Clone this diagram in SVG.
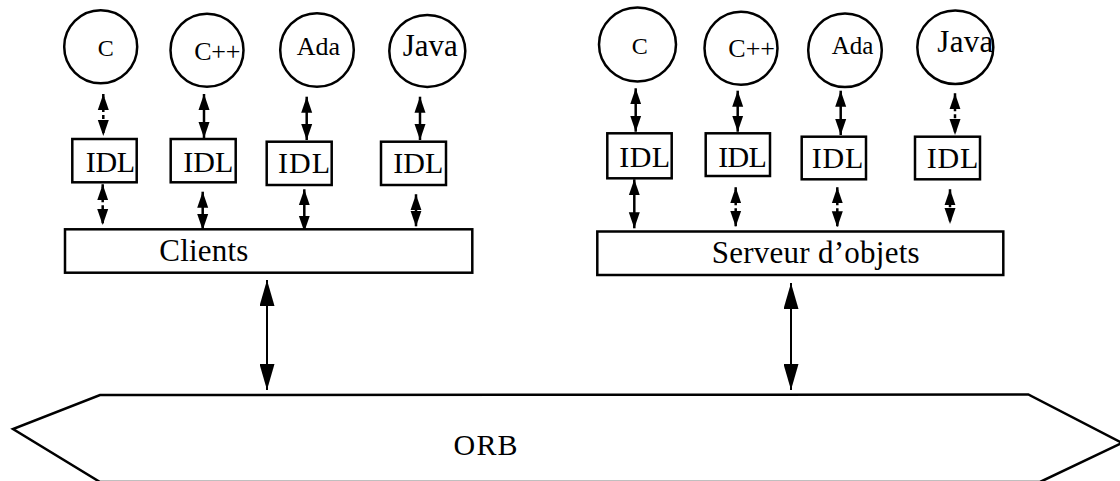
<svg xmlns="http://www.w3.org/2000/svg" width="1120" height="481" viewBox="0 0 1120 481">
<style>
.sh{fill:#fff;stroke:#000;stroke-width:2.5}
.t{font-family:"Liberation Serif","Times New Roman",serif;fill:#000}
.a{stroke:#000;stroke-width:2.5;fill:none;marker-start:url(#hs);marker-end:url(#hs)}
.d{stroke-dasharray:4 3}
.b{stroke:#000;stroke-width:2;fill:none;marker-start:url(#hb);marker-end:url(#hb)}
</style>
<defs>
<marker id="hs" markerUnits="userSpaceOnUse" markerWidth="16" markerHeight="12" refX="16" refY="6" orient="auto-start-reverse"><path d="M0,0.5 L16,6 L0,11.5 z" fill="#000"/></marker>
<marker id="hb" markerUnits="userSpaceOnUse" markerWidth="26" markerHeight="15" refX="26" refY="7.5" orient="auto-start-reverse"><path d="M0,0 L26,7.5 L0,15 z" fill="#000"/></marker>
</defs>
<rect width="1120" height="481" fill="#fff"/>

<g id="connectors">
<line class="a d" x1="103.3" y1="94" x2="103.3" y2="136"/>
<line class="a" x1="204" y1="94" x2="204" y2="138"/>
<line class="a" x1="306.7" y1="96.7" x2="306.7" y2="140"/>
<line class="a" x1="420" y1="96.7" x2="420" y2="140"/>
<line class="a d" x1="102.7" y1="184.3" x2="102.7" y2="225"/>
<line class="a" x1="202.7" y1="191.7" x2="202.7" y2="230"/>
<line class="a" x1="304.3" y1="189.3" x2="304.3" y2="231.7"/>
<line class="a d" x1="416" y1="194.3" x2="416" y2="226.7"/>
<line class="a" x1="635.7" y1="88.3" x2="635.7" y2="131.7"/>
<line class="a" x1="737.7" y1="90.7" x2="737.7" y2="131.7"/>
<line class="a" x1="840.7" y1="90.7" x2="840.7" y2="135"/>
<line class="a d" x1="955" y1="93.3" x2="955" y2="135"/>
<line class="a" x1="634.3" y1="179.3" x2="634.3" y2="228.3"/>
<line class="a d" x1="735.7" y1="187.3" x2="735.7" y2="226.7"/>
<line class="a d" x1="837.3" y1="187.3" x2="837.3" y2="227.3"/>
<line class="a d" x1="950" y1="189.3" x2="950" y2="224"/>
<line class="b" x1="267" y1="280" x2="267" y2="390"/>
<line class="b" x1="791" y1="283" x2="791" y2="390"/>
</g>

<g id="c-client"><circle class="sh" cx="100.7" cy="46.7" r="36.5"/><text class="t" x="97.7" y="56" font-size="24">C</text></g>
<g id="cpp-client"><circle class="sh" cx="207" cy="50.3" r="36.5"/><text class="t" x="194.3" y="60" font-size="26" textLength="46">C++</text></g>
<g id="ada-client"><circle class="sh" cx="317" cy="50" r="36.8"/><text class="t" x="296.7" y="55" font-size="26">Ada</text></g>
<g id="java-client"><ellipse class="sh" cx="427.3" cy="51" rx="38" ry="36"/><text class="t" x="402.7" y="56" font-size="31" textLength="55">Java</text></g>

<g id="idl-c1"><rect class="sh" x="72.3" y="139" width="64.4" height="43.3"/><text class="t" x="85.7" y="171.7" font-size="30" textLength="49.5">IDL</text></g>
<g id="idl-c2"><rect class="sh" x="170.7" y="139" width="65" height="43.3"/><text class="t" x="183.3" y="171.7" font-size="30" textLength="50">IDL</text></g>
<g id="idl-c3"><rect class="sh" x="266.7" y="141.7" width="65" height="43.3"/><text class="t" x="278" y="173.3" font-size="30" textLength="52">IDL</text></g>
<g id="idl-c4"><rect class="sh" x="381" y="141.7" width="65" height="43.3"/><text class="t" x="393.3" y="173.3" font-size="30" textLength="50">IDL</text></g>

<g id="clients"><rect class="sh" x="65" y="229.3" width="407.3" height="43.4"/><text class="t" x="159.3" y="260.7" font-size="31" textLength="89">Clients</text></g>

<g id="c-server"><ellipse class="sh" cx="637.5" cy="44.5" rx="38.5" ry="37"/><text class="t" x="631.7" y="54" font-size="24">C</text></g>
<g id="cpp-server"><circle class="sh" cx="741" cy="48.3" r="36.5"/><text class="t" x="728.3" y="56.7" font-size="26" textLength="46.7">C++</text></g>
<g id="ada-server"><circle class="sh" cx="845" cy="50.3" r="36.8"/><text class="t" x="831.7" y="54" font-size="25" textLength="41.6">Ada</text></g>
<g id="java-server"><ellipse class="sh" cx="955.3" cy="47.3" rx="38" ry="36.7"/><text class="t" x="937.3" y="51.7" font-size="31" textLength="56">Java</text></g>

<g id="idl-s1"><rect class="sh" x="607.3" y="133.3" width="64.4" height="45"/><text class="t" x="619.3" y="167.3" font-size="30" textLength="50.7">IDL</text></g>
<g id="idl-s2"><rect class="sh" x="705.7" y="133.3" width="64.3" height="42.7"/><text class="t" x="718.3" y="166.5" font-size="30" textLength="48.5">IDL</text></g>
<g id="idl-s3"><rect class="sh" x="801.7" y="136.7" width="64.3" height="42.6"/><text class="t" x="811.7" y="168.3" font-size="30" textLength="51.6">IDL</text></g>
<g id="idl-s4"><rect class="sh" x="915" y="136.7" width="65" height="42.6"/><text class="t" x="926.7" y="168.3" font-size="30" textLength="51.6">IDL</text></g>

<g id="serveur"><rect class="sh" x="597.3" y="231.5" width="406" height="43.5"/><text class="t" x="711.7" y="263.3" font-size="31" textLength="208">Serveur d’objets</text></g>

<g id="orb"><polygon class="sh" points="100,395 1028.3,394.5 1122,443 1040,482 100,482 13,429"/><text class="t" x="453.6" y="455" font-size="30" textLength="64">ORB</text></g>
</svg>
